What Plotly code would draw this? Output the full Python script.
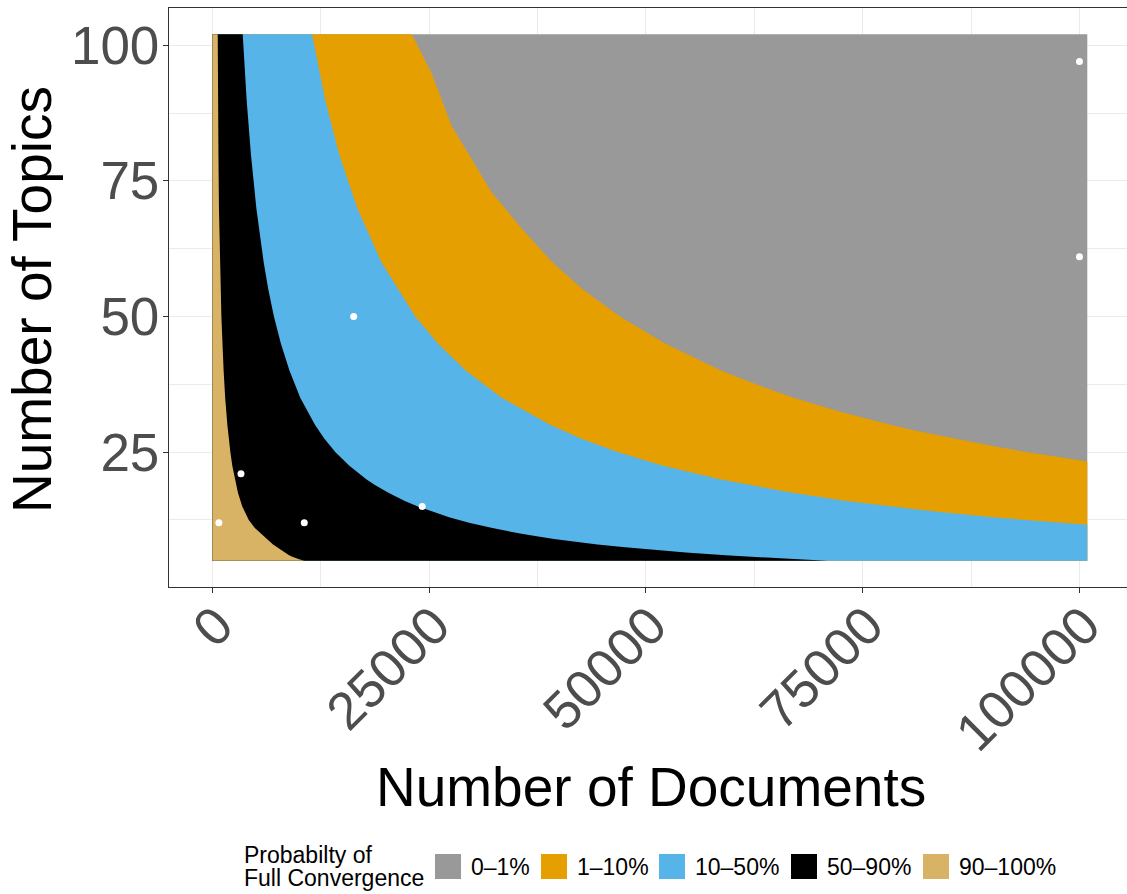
import plotly.graph_objects as go

# ---------------- data ----------------
CATEGORIES = ["0\u20131%", "1\u201310%", "10\u201350%", "50\u201390%", "90\u2013100%"]
COLORS = ["#999999", "#E69F00", "#56B4E9", "#000000", "#D8B365"]
LEGEND_TITLE = ["Probabilty of", "Full Convergence"]

# extent of the filled probability surface
DOC_MIN, DOC_MAX = 0, 100900
TOPIC_MIN, TOPIC_MAX = 5, 102

# boundary between 1-10% (orange) and 0-1% (gray)
B1_TOPICS = [23.3, 24, 25, 26, 27.5, 29, 30, 32.5, 35, 37.5, 40, 45, 50, 55,
             60, 66, 72.9, 79, 85.1, 94.9, 102]
B1_DOCS = [100900, 97900, 94000, 90400, 85500, 81000, 78300, 72300, 67100,
           62700, 58700, 52200, 47000, 42700, 39200, 35800, 32200, 29900,
           27600, 25260, 23000]

# boundary between 10-50% (blue) and 1-10% (orange)
B2_TOPICS = [11.6, 12, 12.5, 13, 14, 15, 16, 17.5, 19, 20, 22.5, 25, 27.5, 30,
             35, 40, 45, 50, 60, 70, 80, 90, 102]
B2_DOCS = [100900, 97500, 93600, 90000, 83600, 78000, 73100, 66900, 61600,
           58500, 52000, 46800, 42500, 39000, 33400, 29250, 26000, 23400,
           19500, 16700, 14600, 13000, 11500]

# boundary between 50-90% (black) and 10-50% (blue)
B3_TOPICS = [5, 5.25, 5.5, 5.75, 6, 6.5, 7, 7.5, 8, 8.5, 9, 9.5, 10, 11, 12,
             13, 14, 15, 16, 17.5, 19, 20, 22.5, 25, 27.5, 30, 35, 40, 45, 50,
             55, 60, 70, 80, 90, 102]
B3_DOCS = [71000, 67600, 64500, 61700, 59200, 54600, 50700, 47300, 44400,
           41800, 39400, 37400, 35500, 32300, 29600, 27300, 25400, 23700,
           22200, 20300, 18700, 17750, 15800, 14200, 12900, 11850, 10150, 8900,
           7900, 7100, 6450, 5920, 5070, 4440, 3950, 3500]

# boundary between 90-100% (tan) and 50-90% (black)
B4_TOPICS = [5, 5.25, 5.5, 5.75, 6, 6.5, 7, 7.5, 8, 8.5, 9, 10, 11, 12.5, 14,
             15, 17.5, 20, 22.5, 25, 30, 35, 40, 50, 60, 70, 80, 90, 102]
B4_DOCS = [10600, 10000, 9500, 9150, 8850, 8350, 7850, 7400, 7000, 6650, 6300,
           5550, 4900, 4200, 3720, 3450, 2950, 2600, 2300, 2080, 1730, 1480,
           1300, 1040, 870, 760, 700, 660, 620]

# observed corpora (white dots)
OBS_DOCS = [750, 3300, 10600, 24200, 16300, 100000, 100000]
OBS_TOPICS = [12, 21, 12, 15, 50, 97, 61]

X_TICKS = [0, 25000, 50000, 75000, 100000]
X_TICK_LABELS = ["0", "25000", "50000", "75000", "100000"]
X_MINOR = [12500, 37500, 62500, 87500]
Y_TICKS = [25, 50, 75, 100]
Y_TICK_LABELS = ["25", "50", "75", "100"]
Y_MINOR = [12.5, 37.5, 62.5, 87.5]

X_TITLE = "Number of Documents"
Y_TITLE = "Number of Topics"

# ---------------- figure ----------------
W, H = 1127, 894
L, R, T, B = 169, 0, 8, 307
PW, PH = W - L - R, H - T - B
FONT = "Liberation Sans, Arial, Helvetica, sans-serif"


def px_x(p):
    return (p - L) / PW


def px_y(p):
    return (H - B - p) / PH


def band(b_topics, b_docs):
    xs, ys = [DOC_MIN], [TOPIC_MIN]
    if b_docs[0] >= DOC_MAX:
        xs.append(DOC_MAX)
        ys.append(TOPIC_MIN)
    xs += list(b_docs)
    ys += list(b_topics)
    xs.append(DOC_MIN)
    ys.append(TOPIC_MAX)
    return xs, ys


fig = go.Figure()

# 0-1% background region
fig.add_trace(go.Scatter(
    x=[DOC_MIN, DOC_MAX, DOC_MAX, DOC_MIN], y=[TOPIC_MIN, TOPIC_MIN, TOPIC_MAX, TOPIC_MAX],
    fill="toself", fillcolor=COLORS[0], mode="lines", line=dict(width=0),
    showlegend=False, hoverinfo="skip"))

for bt, bd, col in [(B1_TOPICS, B1_DOCS, COLORS[1]),
                    (B2_TOPICS, B2_DOCS, COLORS[2]),
                    (B3_TOPICS, B3_DOCS, COLORS[3]),
                    (B4_TOPICS, B4_DOCS, COLORS[4])]:
    xs, ys = band(bt, bd)
    fig.add_trace(go.Scatter(
        x=xs, y=ys, fill="toself", fillcolor=col, mode="lines",
        line=dict(width=0), showlegend=False, hoverinfo="skip"))

fig.add_trace(go.Scatter(
    x=OBS_DOCS, y=OBS_TOPICS, mode="markers",
    marker=dict(color="white", size=7, line=dict(width=0)),
    showlegend=False))

grid = "#EBEBEB"
axis_line = "#333333"
tick_font = dict(family=FONT, size=53, color="#4D4D4D")

fig.update_layout(
    width=W, height=H,
    margin=dict(l=L, r=R, t=T, b=B, pad=0),
    paper_bgcolor="white", plot_bgcolor="white",
    showlegend=False,
    xaxis=dict(
        range=[-5000, 105480], autorange=False, automargin=False,
        tickvals=X_TICKS, ticktext=X_TICK_LABELS, tickangle=-45,
        tickfont=tick_font, ticks="outside", ticklen=5, tickwidth=1.1,
        tickcolor=axis_line, showline=True, linecolor=axis_line, linewidth=1.1,
        mirror=True, showgrid=True, gridcolor=grid, gridwidth=1.4,
        zeroline=False, ticklabelstandoff=-20, ticklabelshift=5,
        minor=dict(tickvals=X_MINOR, showgrid=True, gridcolor=grid,
                   gridwidth=0.8, ticks=""),
    ),
    yaxis=dict(
        range=[0.15, 106.85], autorange=False, automargin=False,
        tickvals=Y_TICKS, ticktext=Y_TICK_LABELS,
        tickfont=tick_font, ticks="outside", ticklen=5, tickwidth=1.1,
        tickcolor=axis_line, showline=True, linecolor=axis_line, linewidth=1.1,
        mirror=False, showgrid=True, gridcolor=grid, gridwidth=1.4,
        zeroline=False, ticklabelstandoff=-7,
        minor=dict(tickvals=Y_MINOR, showgrid=True, gridcolor=grid,
                   gridwidth=0.8, ticks=""),
    ),
)

annotations = [
    dict(text=X_TITLE, x=px_x(650.5), y=px_y(787), xref="paper", yref="paper",
         xanchor="center", yanchor="middle", showarrow=False,
         font=dict(family=FONT, size=55, color="black")),
    dict(text=Y_TITLE, x=px_x(32), y=px_y(300), xref="paper", yref="paper",
         xanchor="center", yanchor="middle", showarrow=False, textangle=-90,
         font=dict(family=FONT, size=55, color="black")),
]

# legend drawn manually (ggplot-style, bottom)
leg_font = dict(family=FONT, size=23, color="black")
annotations.append(dict(text=LEGEND_TITLE[0], x=px_x(242), y=px_y(855),
                        xref="paper", yref="paper", xanchor="left",
                        yanchor="middle", showarrow=False, font=leg_font))
annotations.append(dict(text=LEGEND_TITLE[1], x=px_x(242), y=px_y(878),
                        xref="paper", yref="paper", xanchor="left",
                        yanchor="middle", showarrow=False, font=leg_font))

key_left = [435, 541, 659, 791, 923]
shapes = []
for i, (cat, col) in enumerate(zip(CATEGORIES, COLORS)):
    x0 = key_left[i]
    shapes.append(dict(type="rect", xref="paper", yref="paper",
                       x0=px_x(x0), x1=px_x(x0 + 26), y0=px_y(879), y1=px_y(854),
                       fillcolor=col, line=dict(width=0)))
    annotations.append(dict(text=cat, x=px_x(x0 + 34), y=px_y(866.5),
                            xref="paper", yref="paper", xanchor="left",
                            yanchor="middle", showarrow=False, font=leg_font))

fig.update_layout(annotations=annotations, shapes=shapes)

fig.write_html("out.html", config={"displayModeBar": False},
               post_script="document.body.style.margin='0';")
